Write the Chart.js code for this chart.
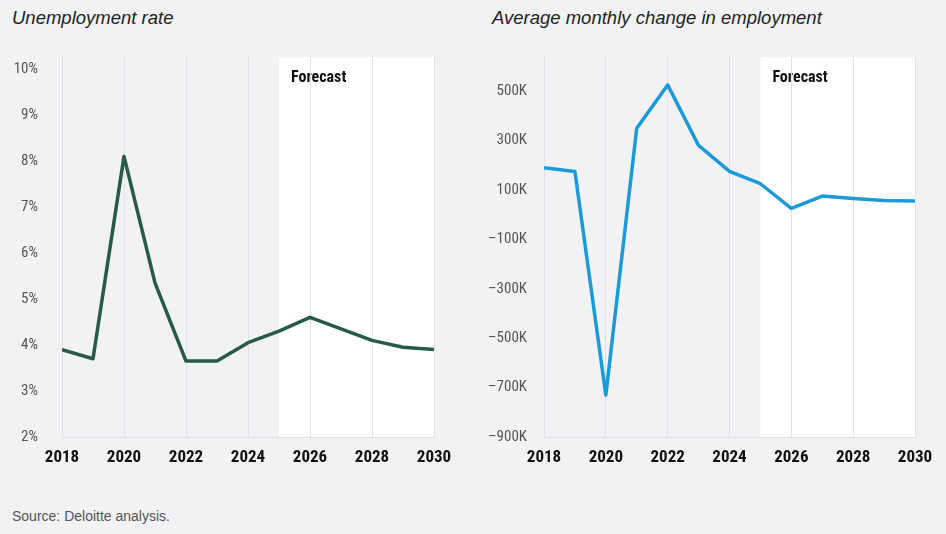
<!DOCTYPE html>
<html>
<head>
<meta charset="utf-8">
<script src="https://cdn.jsdelivr.net/npm/chart.js@4.4.1/dist/chart.umd.min.js"></script>
<style>
  body { margin: 0; width: 946px; height: 534px; overflow: hidden; position: relative;
         background: #f2f2f4; font-family: "Liberation Sans", Arial, sans-serif; }
  .title { position: absolute; top: 7px; font-style: italic; font-size: 18.5px; color: #222; }
  .source { position: absolute; left: 12px; top: 508px; font-size: 14px; color: #555; }
  canvas { position: absolute; top: 40px; }
</style>
</head>
<body>
<div class="title" style="left:12px">Unemployment rate</div>
<div class="title" style="left:492px">Average monthly change in employment</div>
<canvas id="rateChart" width="470" height="440" style="left:0"></canvas>
<canvas id="jobsChart" width="470" height="440" style="left:476px"></canvas>
<div class="source">Source: Deloitte analysis.</div>
<script>
// data
const years = [2018, 2019, 2020, 2021, 2022, 2023, 2024, 2025, 2026, 2027, 2028, 2029, 2030];
const unemploymentRate = [3.9, 3.7, 8.1, 5.35, 3.65, 3.65, 4.05, 4.3, 4.6, 4.35, 4.1, 3.95, 3.9];
const employmentChangeK = [190, 175, -730, 350, 525, 280, 175, 125, 25, 75, 65, 57, 55];
const forecastStart = 2025;

// axis ticks
const yearTicks = [2018, 2020, 2022, 2024, 2026, 2028, 2030];
const rateTicks = [2, 3, 4, 5, 6, 7, 8, 9, 10];
const jobsTicks = [-900, -700, -500, -300, -100, 100, 300, 500];
const rateAxisMax = 10.26;
const jobsAxisMax = 638;

const narrow = '"Liberation Sans Narrow", "Roboto Condensed", Roboto, sans-serif';
const tickFont = { family: narrow, size: 15 };
const yearFont = { family: narrow, size: 17, weight: 'bold' };

// white forecast block + label
const forecastShade = {
  id: 'forecastShade',
  beforeDraw(chart) {
    const { ctx, chartArea: a, scales: { x } } = chart;
    const x0 = x.getPixelForValue(forecastStart);
    ctx.save();
    ctx.fillStyle = '#ffffff';
    ctx.fillRect(x0, a.top, a.right - x0, a.bottom - a.top);
    ctx.fillStyle = '#111';
    ctx.font = 'bold 16px ' + narrow;
    ctx.textBaseline = 'middle';
    ctx.fillText('Forecast', x0 + 12, a.top + 21);
    ctx.restore();
  }
};

function makeChart(id, values, color, ticks, axisMax, yWidth, labelPad, padRight, fmt) {
  return new Chart(document.getElementById(id), {
    type: 'line',
    data: {
      datasets: [{
        data: years.map((yr, i) => ({ x: yr, y: values[i] })),
        borderColor: color,
        borderWidth: 3.5,
        borderJoinStyle: 'round',
        pointRadius: 0,
        tension: 0
      }]
    },
    options: {
      responsive: false,
      animation: false,
      layout: { padding: { top: 17, right: padRight, left: 0, bottom: 0 } },
      plugins: { legend: { display: false }, tooltip: { enabled: false } },
      scales: {
        x: {
          type: 'linear',
          min: years[0],
          max: years[years.length - 1],
          afterFit: s => { s.height = 43; s.paddingLeft = 0; s.paddingRight = 0; },
          afterBuildTicks: s => { s.ticks = yearTicks.map(v => ({ value: v })); },
          grid: { color: '#e1e1e5', drawTicks: false },
          border: { color: '#e1e1e5' },
          ticks: { padding: 11, color: '#111', font: yearFont, callback: v => String(v), maxRotation: 0, autoSkip: false }
        },
        y: {
          min: ticks[0],
          max: axisMax,
          afterFit: s => { s.width = yWidth; s.paddingTop = 0; s.paddingBottom = 0; },
          afterBuildTicks: s => { s.ticks = ticks.map(v => ({ value: v })); },
          grid: { display: false, drawTicks: false },
          border: { display: false },
          ticks: { padding: labelPad, color: '#555', font: tickFont, callback: fmt, autoSkip: false }
        }
      }
    },
    plugins: [forecastShade]
  });
}

makeChart('rateChart', unemploymentRate, '#285a47', rateTicks, rateAxisMax, 62, 24, 36, v => v + '%');
makeChart('jobsChart', employmentChangeK, '#1b9ad8', jobsTicks, jobsAxisMax, 68, 17, 31,
  v => (v < 0 ? '\u2013' + Math.abs(v) : v) + 'K');
</script>
</body>
</html>
